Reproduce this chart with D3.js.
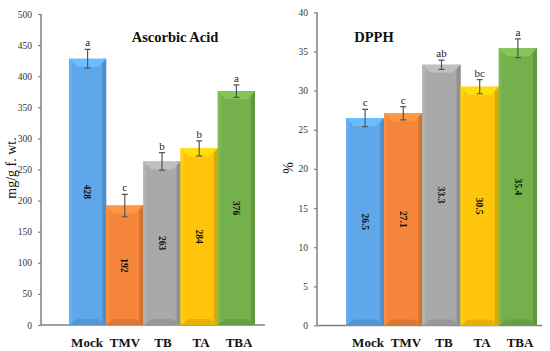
<!DOCTYPE html>
<html><head><meta charset="utf-8">
<script src="https://cdn.jsdelivr.net/npm/d3@7"></script>
<style>body{margin:0;background:#fff}svg{display:block}</style>
</head><body>
<svg id="c" width="550" height="351"></svg>
<script>
const categories = ["Mock","TMV","TB","TA","TBA"];
const ascorbic = [428,192,263,284,376];
const ascorbicErr = [15,18,14,12,10];
const ascorbicLetters = ["a","c","b","b","a"];
const dpph = [26.5,27.1,33.3,30.5,35.4];
const dpphErr = [1.1,0.85,0.6,0.9,1.2];
const dpphLetters = ["c","c","ab","bc","a"];
const yTicksA = [0,50,100,150,200,250,300,350,400,450,500];
const yTicksD = [0,5,10,15,20,25,30,35,40];

const colors = ["#5ea7e8","#f5853a","#a9a9a9","#ffc50a","#74b04c"];
const svg = d3.select("#c");
const serif = "'Liberation Serif','Times New Roman',serif";

function panel(o){
  const g = svg.append("g");
  const y = d3.scaleLinear().domain(o.domain).range([o.y0,o.y1]);
  const x = d3.scaleBand().domain(categories).range(o.barRange).padding(0);
  const xl = d3.scalePoint().domain(categories).range(o.labelRange);
  const ax = g.append("g").attr("transform",`translate(${o.axisX},0)`)
    .call(d3.axisLeft(y).tickValues(o.ticks).tickSize(3).tickPadding(6));
  ax.select(".domain").attr("stroke","#808080").attr("stroke-width",1.5).attr("d",`M0,${y(0)}V${o.y1}`);
  ax.selectAll(".tick line").attr("stroke","#808080").attr("stroke-width",1.2);
  ax.selectAll(".tick text").attr("font-family",serif).attr("font-size",9.5).attr("fill","#333");
  g.append("line").attr("x1",o.axisX).attr("x2",o.axisEnd).attr("y1",y(0)).attr("y2",y(0))
    .attr("stroke","#808080").attr("stroke-width",1.5);
  const bw = x.bandwidth();
  o.values.forEach((v,i)=>{
    const x0 = x(categories[i]), x1 = x0+bw, yt = y(v), yb = y(0);
    const c = d3.color(colors[i]);
    const bg = g.append("g");
    bg.append("rect").attr("x",x0).attr("y",yt).attr("width",bw).attr("height",yb-yt).attr("fill",c.formatHex());
    bg.append("rect").attr("x",x0).attr("y",yt).attr("width",3).attr("height",yb-yt).attr("fill",c.brighter(0.15).formatHex());
    bg.append("rect").attr("x",x1-4).attr("y",yt).attr("width",4).attr("height",yb-yt).attr("fill",c.darker(0.45).formatHex());
    const b = 8;
    bg.append("path").attr("d",`M${x0},${yt}L${x1},${yt}L${x1-b},${yt+b}L${x0+b},${yt+b}Z`).attr("fill",c.brighter(0.35).formatHex());
    bg.append("path").attr("d",`M${x0},${yb}L${x1},${yb}L${x1-b},${yb-6}L${x0+b},${yb-6}Z`).attr("fill",c.darker(0.3).formatHex());
    const cx = x0+bw/2, cy = (yt+yb)/2;
    g.append("text").attr("transform",`translate(${cx},${cy}) rotate(90)`)
      .attr("text-anchor","middle").attr("dy","0.35em")
      .attr("font-family",serif).attr("font-weight","bold").attr("font-size",9.5).attr("fill","#111")
      .text(o.fmt(v));
    const e = o.err[i];
    const et = y(v+e), eb = y(v-e);
    g.append("path").attr("d",`M${cx},${et}V${eb}M${cx-3},${et}H${cx+3}M${cx-3},${eb}H${cx+3}`)
      .attr("stroke","#555").attr("stroke-width",1.2).attr("fill","none");
    g.append("text").attr("x",cx).attr("y",et-3).attr("text-anchor","middle")
      .attr("font-family",serif).attr("font-size",11).attr("fill","#222").text(o.letters[i]);
  });
  categories.forEach(cat=>{
    g.append("text").attr("x",xl(cat)).attr("y",347).attr("text-anchor","middle")
      .attr("font-family",serif).attr("font-weight","bold").attr("font-size",13).attr("fill","#111").text(cat);
  });
  g.append("text").attr("x",o.titleX).attr("y",42).attr("text-anchor","middle")
    .attr("font-family",serif).attr("font-weight","bold").attr("font-size",14.5).attr("fill","#111").text(o.title);
  g.append("text").attr("transform",`translate(${o.ylabX},${o.ylabY}) rotate(-90)`)
    .attr("text-anchor","middle").attr("font-family",serif).attr("font-size",14).attr("fill","#111").text(o.ylab);
}

panel({domain:[0,500], y0:325, y1:14, barRange:[69,255], labelRange:[87,239],
  ticks:yTicksA, axisX:41, axisEnd:265, values:ascorbic, err:ascorbicErr, letters:ascorbicLetters,
  fmt:d=>d3.format("d")(d), title:"Ascorbic Acid", titleX:175, ylab:"mg/g f. wt.", ylabX:16, ylabY:168});
panel({domain:[0,40], y0:325.5, y1:12.3, barRange:[346,537], labelRange:[368,520],
  ticks:yTicksD, axisX:317, axisEnd:542, values:dpph, err:dpphErr, letters:dpphLetters,
  fmt:d=>d3.format(".1f")(d), title:"DPPH", titleX:374, ylab:"%", ylabX:293, ylabY:168});
</script>
</body></html>
